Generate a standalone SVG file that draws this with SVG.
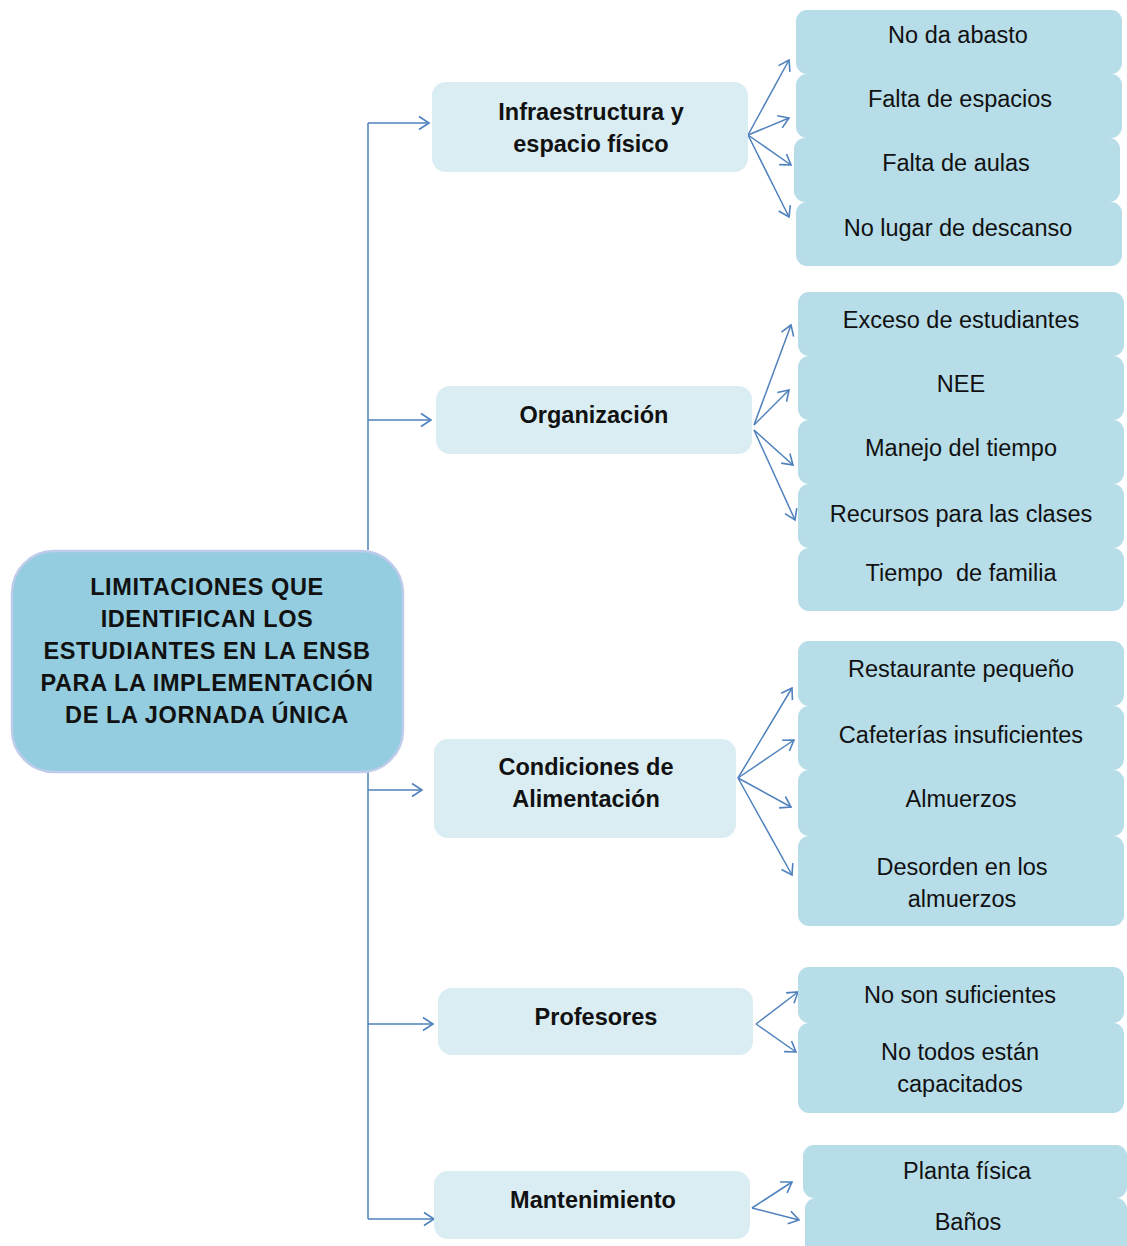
<svg xmlns="http://www.w3.org/2000/svg" width="1127" height="1246" viewBox="0 0 1127 1246">
<defs>
<marker id="ah" markerUnits="userSpaceOnUse" markerWidth="14" markerHeight="16" refX="11" refY="7" orient="auto" viewBox="0 0 14 14">
<path d="M1,0.5 L11,7 L1,13.5" fill="none" stroke="#4f81bd" stroke-width="1.6"/>
</marker>
<style>
.t{font-family:"Liberation Sans",Arial,sans-serif;font-size:23.5px;fill:#111;text-anchor:middle}
.b{font-weight:bold}
.m{letter-spacing:0.6px}
.mid{fill:#daedf3}
.leaf{fill:#b7dde8}
.c{fill:none;stroke:#4f81bd;stroke-width:1.5;marker-end:url(#ah)}
.l{fill:none;stroke:#4f81bd;stroke-width:1.5}
</style>
</defs>
<rect width="1127" height="1246" fill="#fff"/>
<g id="connectors">
<path class="l" d="M368,123 V550 M368,772 V1219"/>
<path class="c" d="M368,123 H429"/>
<path class="c" d="M368,420 H431"/>
<path class="c" d="M368,790 H422"/>
<path class="c" d="M368,1024 H433"/>
<path class="c" d="M368,1219 H434"/>
<path class="c" d="M748,135 L789,60"/>
<path class="c" d="M748,135 L789,118"/>
<path class="c" d="M748,135 L791,165"/>
<path class="c" d="M748,135 L789,217"/>
<path class="c" d="M754,425 L791,325"/>
<path class="c" d="M754,425 L789,390"/>
<path class="c" d="M754,430 L793,465"/>
<path class="c" d="M754,430 L795,520"/>
<path class="c" d="M738,778 L792,688"/>
<path class="c" d="M738,778 L794,740"/>
<path class="c" d="M738,778 L791,807"/>
<path class="c" d="M738,778 L792,875"/>
<path class="c" d="M756,1024 L798,992"/>
<path class="c" d="M756,1024 L796,1052"/>
<path class="c" d="M752,1208 L792,1182"/>
<path class="c" d="M752,1208 L799,1220"/>
</g>
<g id="main">
<rect x="12" y="551" width="391" height="221" rx="42" fill="#93cddf" stroke="#bfcbea" stroke-width="2.5"/>
<text class="t b m" x="207" y="595">LIMITACIONES QUE</text>
<text class="t b m" x="207" y="627">IDENTIFICAN LOS</text>
<text class="t b m" x="207" y="659">ESTUDIANTES EN LA ENSB</text>
<text class="t b m" x="207" y="691">PARA LA IMPLEMENTACIÓN</text>
<text class="t b m" x="207" y="723">DE LA JORNADA ÚNICA</text>
</g>
<g id="infraestructura">
<rect class="mid" x="432" y="82" width="316" height="90" rx="14"/>
<text class="t b" x="591" y="120">Infraestructura y</text>
<text class="t b" x="591" y="152">espacio físico</text>
</g>
<g id="organizacion">
<rect class="mid" x="436" y="386" width="316" height="68" rx="14"/>
<text class="t b" x="594" y="423">Organización</text>
</g>
<g id="alimentacion">
<rect class="mid" x="434" y="739" width="302" height="99" rx="14"/>
<text class="t b" x="586" y="775">Condiciones de</text>
<text class="t b" x="586" y="807">Alimentación</text>
</g>
<g id="profesores">
<rect class="mid" x="438" y="988" width="315" height="67" rx="14"/>
<text class="t b" x="596" y="1025">Profesores</text>
</g>
<g id="mantenimiento">
<rect class="mid" x="434" y="1171" width="316" height="68" rx="14"/>
<text class="t b" x="593" y="1208">Mantenimiento</text>
</g>
<g id="leaf-no-da-abasto"><rect class="leaf" x="796" y="10" width="326" height="64" rx="11"/><text class="t" x="958" y="43">No da abasto</text></g>
<g id="leaf-falta-espacios"><rect class="leaf" x="796" y="74" width="326" height="64" rx="11"/><text class="t" x="960" y="107">Falta de espacios</text></g>
<g id="leaf-falta-aulas"><rect class="leaf" x="794" y="138" width="326" height="64" rx="11"/><text class="t" x="956" y="171">Falta de aulas</text></g>
<g id="leaf-no-lugar"><rect class="leaf" x="796" y="202" width="326" height="64" rx="11"/><text class="t" x="958" y="236">No lugar de descanso</text></g>
<g id="leaf-exceso"><rect class="leaf" x="798" y="292" width="326" height="64" rx="11"/><text class="t" x="961" y="328">Exceso de estudiantes</text></g>
<g id="leaf-nee"><rect class="leaf" x="798" y="356" width="326" height="64" rx="11"/><text class="t" x="961" y="392">NEE</text></g>
<g id="leaf-manejo"><rect class="leaf" x="798" y="420" width="326" height="64" rx="11"/><text class="t" x="961" y="456">Manejo del tiempo</text></g>
<g id="leaf-recursos"><rect class="leaf" x="798" y="484" width="326" height="64" rx="11"/><text class="t" x="961" y="522">Recursos para las clases</text></g>
<g id="leaf-tiempo"><rect class="leaf" x="798" y="548" width="326" height="63" rx="11"/><text class="t" x="961" y="581" xml:space="preserve">Tiempo  de familia</text></g>
<g id="leaf-restaurante"><rect class="leaf" x="798" y="641" width="326" height="65" rx="11"/><text class="t" x="961" y="677">Restaurante pequeño</text></g>
<g id="leaf-cafeterias"><rect class="leaf" x="798" y="706" width="326" height="64" rx="11"/><text class="t" x="961" y="743">Cafeterías insuficientes</text></g>
<g id="leaf-almuerzos"><rect class="leaf" x="798" y="770" width="326" height="66" rx="11"/><text class="t" x="961" y="807">Almuerzos</text></g>
<g id="leaf-desorden"><rect class="leaf" x="798" y="836" width="326" height="90" rx="11"/><text class="t" x="962" y="875">Desorden en los</text><text class="t" x="962" y="907">almuerzos</text></g>
<g id="leaf-no-suficientes"><rect class="leaf" x="798" y="967" width="326" height="56" rx="11"/><text class="t" x="960" y="1003">No son suficientes</text></g>
<g id="leaf-no-capacitados"><rect class="leaf" x="798" y="1023" width="326" height="90" rx="11"/><text class="t" x="960" y="1060">No todos están</text><text class="t" x="960" y="1092">capacitados</text></g>
<g id="leaf-planta"><rect class="leaf" x="803" y="1145" width="324" height="53" rx="11"/><text class="t" x="967" y="1179">Planta física</text></g>
<g id="leaf-banos"><rect class="leaf" x="805" y="1198" width="322" height="60" rx="11"/><text class="t" x="968" y="1230">Baños</text></g>
</svg>
